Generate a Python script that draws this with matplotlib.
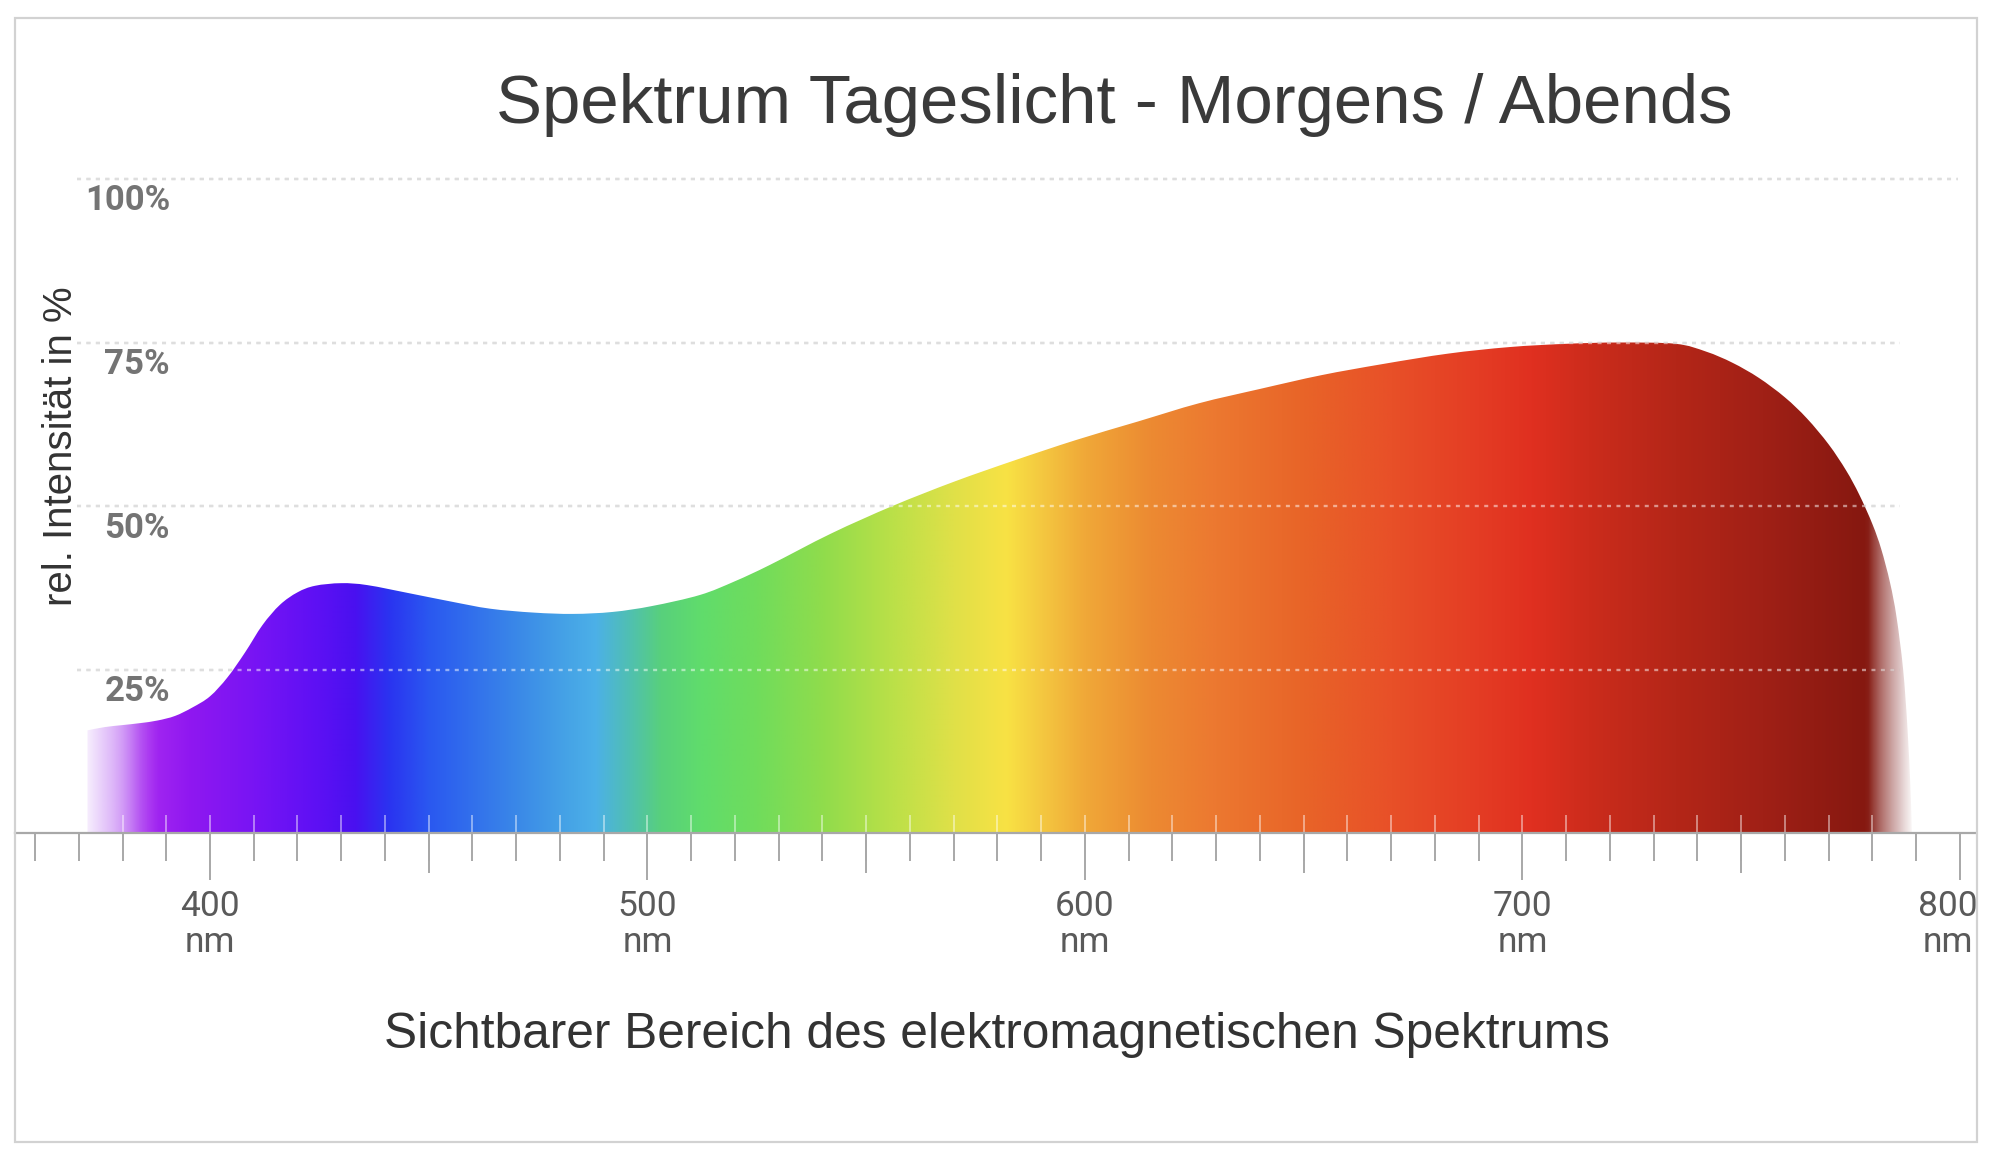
import numpy as np
import matplotlib
matplotlib.use("Agg")
import matplotlib.pyplot as plt
from matplotlib.patches import PathPatch, Rectangle
from matplotlib.path import Path
from matplotlib.colors import to_rgb
from matplotlib.ticker import FixedLocator, MultipleLocator
from matplotlib.transforms import ScaledTranslation

# ---------------- data ----------------
title = "Spektrum Tageslicht - Morgens / Abends"
x_label = "Sichtbarer Bereich des elektromagnetischen Spektrums"
y_label = "rel. Intensität in %"

wavelength_nm = [372, 376, 380, 384, 388, 392, 396, 400, 404, 408, 412, 416, 420,
                 424, 430, 436, 446, 455, 464, 474, 483, 492, 501, 512, 520, 528,
                 542, 556, 570, 584, 598, 612, 626, 640, 654, 668, 683, 697, 710,
                 722, 735, 742, 748, 754, 760, 765, 770, 774, 777, 780, 782, 784,
                 785.5, 787, 788, 788.7, 789]
intensity_pct = [15.7, 16.2, 16.5, 16.8, 17.2, 17.9, 19.2, 20.9, 23.8, 27.6, 31.8,
                 34.9, 36.8, 37.8, 38.2, 37.9, 36.6, 35.4, 34.3, 33.7, 33.5, 33.8,
                 34.7, 36.4, 38.5, 41.0, 45.8, 50.0, 53.7, 57.0, 60.1, 62.9, 65.7,
                 67.9, 70.0, 71.7, 73.3, 74.3, 74.8, 75.0, 74.8, 73.6, 71.9, 69.6,
                 66.6, 63.4, 59.4, 55.4, 51.7, 47.2, 43.4, 38.3, 33.0, 25.0, 16.0,
                 6.5, 0.0]

color_stop_nm = [372, 380, 386, 395, 410, 425, 433, 441, 450, 460, 470, 480, 488,
                 496, 503, 512, 525, 540, 555, 570, 582, 590, 600, 615, 630, 650,
                 670, 690, 702, 715, 735, 755, 778, 789]
color_stop_hex = ['#b060f0', '#b050f0', '#a428f0', '#9018f0', '#7814f4', '#5c10f4',
                  '#4a10f0', '#2a34f0', '#2a58f0', '#3270ec', '#3a88e8', '#44a0e6',
                  '#4cb0e8', '#50c0b0', '#58d07c', '#60dc6c', '#70dc5c', '#90dc4c',
                  '#b8e048', '#e0e048', '#f8e244', '#f4c840', '#f0a838', '#ec8a32',
                  '#ec7830', '#e86428', '#e85028', '#e43c24', '#e03020', '#cc2c1c',
                  '#b42618', '#a02016', '#861810', '#a06060']
alpha_stop_nm = [372, 378, 384, 388, 779, 782, 786, 789]
alpha_stop = [0.12, 0.45, 0.85, 1.0, 1.0, 0.7, 0.35, 0.05]

grid_levels = [25, 50, 75, 100]
grid_labels = ["25%", "50%", "75%", "100%"]
major_ticks = [400, 500, 600, 700, 800]
major_labels = ["400\nnm", "500\nnm", "600\nnm", "700\nnm", "800\nnm"]
medium_ticks = [450, 550, 650, 750]

# ---------------- figure ----------------
W, H = 2000, 1160
fig = plt.figure(figsize=(W / 100, H / 100), dpi=100)
fig.patch.set_facecolor("white")

ax_left_px, ax_right_px = 15, 1975
ax_bottom_px, ax_top_px = 833, 179
ax = fig.add_axes([ax_left_px / W, 1 - ax_bottom_px / H,
                   (ax_right_px - ax_left_px) / W, (ax_bottom_px - ax_top_px) / H])
px_per_nm = 4.375
x0 = 400 - (210 - ax_left_px) / px_per_nm
x1 = 400 + (ax_right_px - 210) / px_per_nm
ax.set_xlim(x0, x1)
ax.set_ylim(0, 100)
ax.set_facecolor("none")
for s in ["top", "right", "left"]:
    ax.spines[s].set_visible(False)
ax.spines["bottom"].set_color("#a8a8a8")
ax.spines["bottom"].set_linewidth(1.6)
ax.spines["bottom"].set_zorder(6)

# gridlines (grey under fill, light over fill)
gx0 = 400 - (210 - 77) / px_per_nm
for lvl in grid_levels:
    gx1 = 400 + ((1958 if lvl == 100 else 1900) - 210) / px_per_nm
    ax.hlines(lvl, gx0, gx1, colors="#bdbdbd", linewidth=1.7,
              linestyles=(0, (1.7, 2.3)), zorder=1, clip_on=False)
    ax.hlines(lvl, gx0, gx1, colors="white", alpha=0.5, linewidth=1.7,
              linestyles=(0, (1.7, 2.3)), zorder=4, clip_on=False)


# smooth outline through the read points (Catmull-Rom rendered as Bezier)
def smooth_path(xs_, ys_):
    pts = np.column_stack([xs_, ys_])
    n = len(pts)
    verts = [(xs_[0], 0.0), tuple(pts[0])]
    codes = [Path.MOVETO, Path.LINETO]
    for i in range(n - 1):
        p0 = pts[i - 1] if i > 0 else pts[i]
        p1, p2 = pts[i], pts[i + 1]
        p3 = pts[i + 2] if i + 2 < n else pts[i + 1]
        c1 = p1 + (p2 - p0) / 6.0
        c2 = p2 - (p3 - p1) / 6.0
        verts += [tuple(c1), tuple(c2), tuple(p2)]
        codes += [Path.CURVE4] * 3
    verts += [(xs_[-1], 0.0), (xs_[0], 0.0)]
    codes += [Path.LINETO, Path.CLOSEPOLY]
    return Path(verts, codes)


# gradient fill clipped to spectrum shape
xs = np.linspace(360, 795, 1800)
rgb = np.array([to_rgb(c) for c in color_stop_hex])
img = np.zeros((2, xs.size, 4))
for ch in range(3):
    img[:, :, ch] = np.interp(xs, color_stop_nm, rgb[:, ch])
img[:, :, 3] = np.interp(xs, alpha_stop_nm, alpha_stop)
im = ax.imshow(img, extent=[xs[0], xs[-1], 0, 100], aspect="auto",
               origin="lower", interpolation="bilinear", zorder=2)
clip = PathPatch(smooth_path(wavelength_nm, intensity_pct), transform=ax.transData,
                 facecolor="none", edgecolor="none")
ax.add_patch(clip)
im.set_clip_path(clip)

# ticks
ax.xaxis.set_major_locator(FixedLocator(major_ticks))
ax.xaxis.set_minor_locator(MultipleLocator(10))
ax.set_xticklabels(major_labels, fontfamily="Roboto", fontsize=25.5,
                   color="#5a5a5a", linespacing=1.12)
ax.tick_params(axis="x", which="major", direction="out", length=34, width=1.4,
               color="#a8a8a8", pad=7)
ax.tick_params(axis="x", which="minor", direction="out", length=20, width=1.4,
               color="#a8a8a8")
last = ax.get_xticklabels()[-1]
last.set_transform(last.get_transform() +
                   ScaledTranslation(-0.12, 0, fig.dpi_scale_trans))
ax.set_yticks([])
px_per_pct = (ax_bottom_px - ax_top_px) / 100
ax.vlines(medium_ticks, -40 / px_per_pct, 0, colors="#a8a8a8", linewidth=1.4,
          clip_on=False, zorder=5)
minor_pos = np.arange(360, 801, 10)
ax.vlines(minor_pos, 0, 18 / px_per_pct, colors="white", alpha=0.45,
          linewidth=1.4, zorder=4)

# y tick labels
lab_x = 400 - (210 - 170) / px_per_nm
for lvl, lab in zip(grid_levels, grid_labels):
    ax.text(lab_x, lvl - 22 / px_per_pct, lab, ha="right", va="center",
            fontfamily="Roboto", fontweight="bold", fontsize=25, color="#747474",
            zorder=5, clip_on=False)

# texts
fig.text(1114 / W, 1 - 105 / H, title, ha="center", va="center",
         fontfamily="Liberation Sans", fontsize=49.7, color="#3a3a3a")
fig.text(997 / W, 1 - 1035 / H, x_label, ha="center", va="center",
         fontfamily="Liberation Sans", fontsize=35.7, color="#333333")
fig.text(61 / W, 1 - 446 / H, y_label, ha="center", va="center", rotation=90,
         fontfamily="Liberation Sans", fontsize=29, color="#333333")

# outer frame
fig.patches.append(Rectangle((15 / W, 1 - 1142 / H), (1977 - 15) / W,
                             (1142 - 18) / H, transform=fig.transFigure,
                             facecolor="none", edgecolor="#d2d2d2", linewidth=1.6))

fig.savefig("out.png", dpi=100, facecolor="white")
